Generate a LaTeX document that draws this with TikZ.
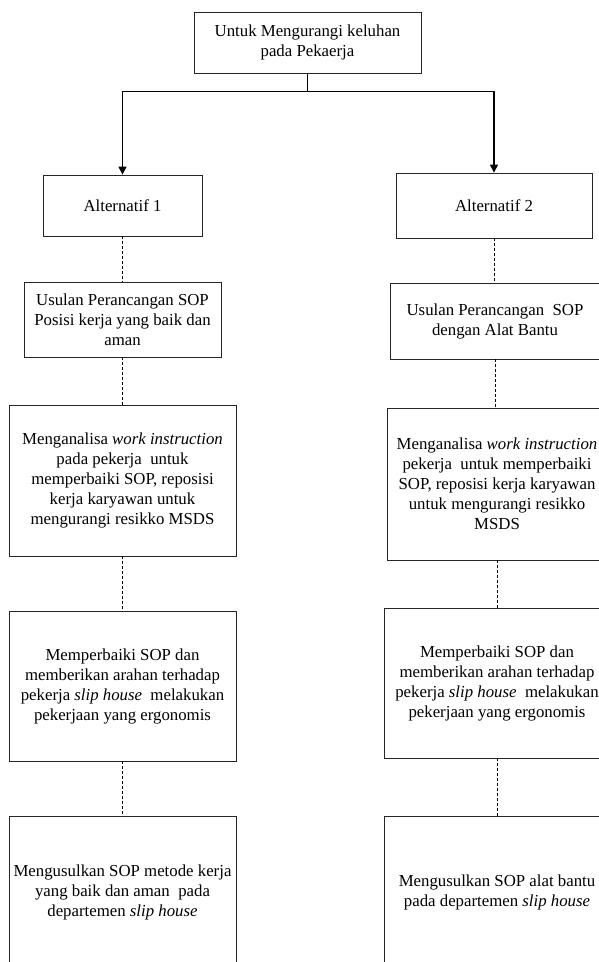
\documentclass[tikz,border=0pt]{standalone}
\usepackage{fontspec}
\setmainfont{Liberation Serif}
\usetikzlibrary{arrows.meta}
\begin{document}
\begin{tikzpicture}[x=1pt,y=-1pt,
  box/.style={draw=black!85,line width=0.8pt,rectangle,inner sep=0pt,align=center,
    font=\fontsize{16.8}{20}\selectfont},
  arr/.style={line width=1.2pt,-{Triangle[length=8pt,width=8pt]}},
  dsh/.style={line width=0.7pt,dash pattern=on 3pt off 2pt}]
\useasboundingbox (0,0) rectangle (598,962);
\node[box,minimum width=227pt,minimum height=61pt] (top) at (307.5,42.5) {Untuk Mengurangi keluhan\\pada Pekaerja};
\node[box,minimum width=159pt,minimum height=61pt] (a1) at (122.5,205.5) {Alternatif 1};
\node[box,minimum width=196pt,minimum height=65pt] (a2) at (494,205.5) {Alternatif 2};
\node[box,minimum width=197pt,minimum height=75pt] (l2) at (122.5,319.5) {Usulan Perancangan SOP\\Posisi kerja yang baik dan\\aman};
\node[box,minimum width=227pt,minimum height=151pt] (l3) at (122.5,480.5) {Menganalisa \textit{work instruction}\\pada pekerja\ \ untuk\\memperbaiki SOP, reposisi\\kerja karyawan untuk\\mengurangi resikko MSDS};
\node[box,minimum width=227pt,minimum height=150pt] (l4) at (122.5,686) {Memperbaiki SOP dan\\memberikan arahan terhadap\\pekerja \textit{slip house}\ \ melakukan\\pekerjaan yang ergonomis};
\node[box,minimum width=227pt,minimum height=152pt] (l5) at (122.5,892) {Mengusulkan SOP metode kerja\\yang baik dan aman\ \ pada\\departemen \textit{slip house}};
\node[box,minimum width=210pt,minimum height=76pt] (r2) at (495,321) {Usulan Perancangan\ \ SOP\\dengan Alat Bantu};
\node[box,minimum width=220pt,minimum height=152pt] (r3) at (497,484) {Menganalisa \textit{work instruction}\\pekerja\ \ untuk memperbaiki\\SOP, reposisi kerja karyawan\\untuk mengurangi resikko\\MSDS};
\node[box,minimum width=226pt,minimum height=150pt] (r4) at (497,683) {Memperbaiki SOP dan\\memberikan arahan terhadap\\pekerja \textit{slip house}\ \ melakukan\\pekerjaan yang ergonomis};
\node[box,minimum width=226pt,minimum height=152pt] (r5) at (497,892) {Mengusulkan SOP alat bantu\\pada departemen \textit{slip house}};
\draw[line width=1.2pt] (top.south) -- ++(0,18) coordinate (j);
\draw[arr] (j) -| (a1.north);
\draw[arr] (j) -| (a2.north);
\draw[dsh] (a1.south) -- (l2.north);
\draw[dsh] (l2.south) -- (l3.north);
\draw[dsh] (l3.south) -- (l4.north);
\draw[dsh] (l4.south) -- (l5.north);
\draw[dsh] (a2.south) -- (a2.south |- r2.north);
\draw[dsh] (r2.south) -- (r2.south |- r3.north);
\draw[dsh] (r3.south) -- (r4.north);
\draw[dsh] (r4.south) -- (r5.north);
\end{tikzpicture}
\end{document}
